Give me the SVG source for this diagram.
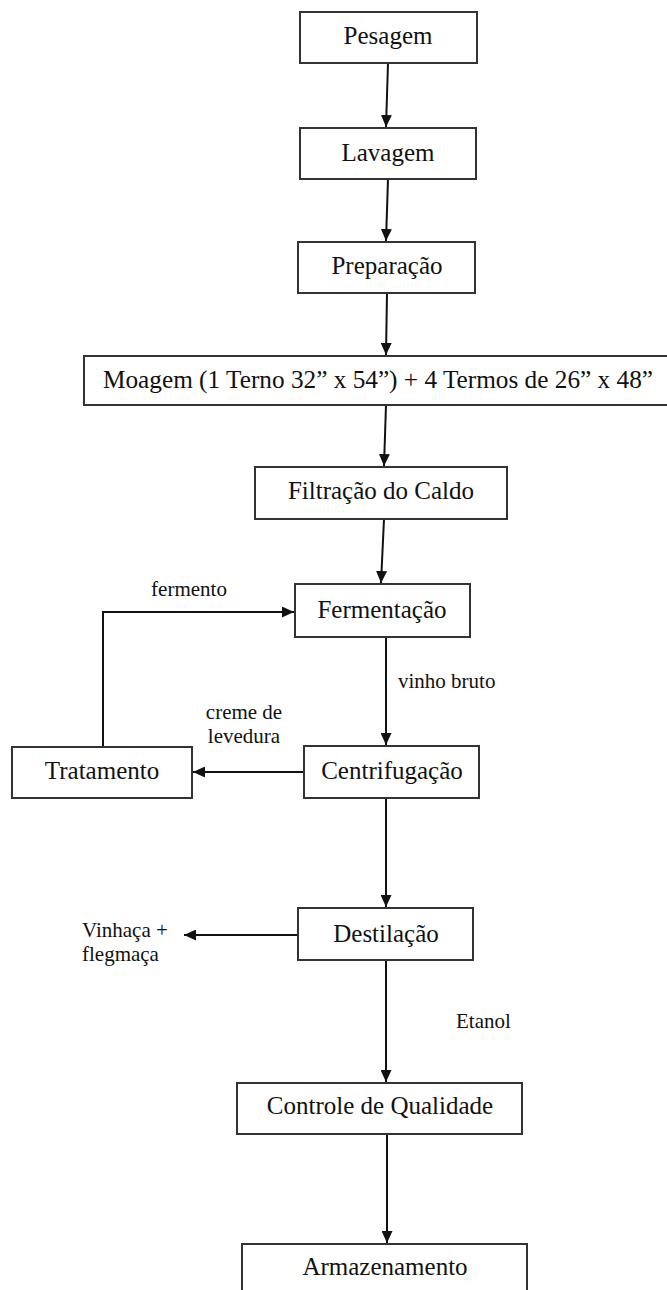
<svg xmlns="http://www.w3.org/2000/svg" width="667" height="1290" viewBox="0 0 667 1290">
<style>
.box{fill:#fff;stroke:#333;stroke-width:2}
.t{font-family:"Liberation Serif","Times New Roman",serif;font-size:25px;fill:#111;text-anchor:middle}
.l{font-family:"Liberation Serif","Times New Roman",serif;font-size:21px;fill:#111}
.c{fill:none;stroke:#111;stroke-width:2}
</style>
<defs>
<marker id="ah" viewBox="0 0 12 11" refX="12" refY="5.5" markerWidth="12" markerHeight="11" markerUnits="userSpaceOnUse" orient="auto">
<path d="M0,0 L12,5.5 L0,11 Z" fill="#111"/>
</marker>
</defs>
<rect width="667" height="1290" fill="#fff"/>
<g id="connectors">
<line class="c" x1="388" y1="63" x2="386" y2="127" marker-end="url(#ah)"/>
<line class="c" x1="388" y1="179" x2="386" y2="241" marker-end="url(#ah)"/>
<line class="c" x1="387" y1="293" x2="386" y2="355" marker-end="url(#ah)"/>
<line class="c" x1="386" y1="405" x2="384" y2="466" marker-end="url(#ah)"/>
<line class="c" x1="384" y1="519" x2="381" y2="583" marker-end="url(#ah)"/>
<line class="c" x1="386" y1="637" x2="386" y2="745" marker-end="url(#ah)"/>
<polyline class="c" points="103,747 103,612 294,612" marker-end="url(#ah)"/>
<line class="c" x1="304" y1="772" x2="193" y2="772" marker-end="url(#ah)"/>
<line class="c" x1="386" y1="798" x2="386" y2="907" marker-end="url(#ah)"/>
<line class="c" x1="298" y1="935" x2="184" y2="935" marker-end="url(#ah)"/>
<line class="c" x1="386" y1="960" x2="386" y2="1082" marker-end="url(#ah)"/>
<line class="c" x1="387" y1="1134" x2="387" y2="1243" marker-end="url(#ah)"/>
</g>
<g id="labels">
<text class="l" x="189" y="596" text-anchor="middle">fermento</text>
<text class="l" x="398" y="688">vinho bruto</text>
<text class="l" x="244" y="719" text-anchor="middle">creme de</text>
<text class="l" x="244" y="743" text-anchor="middle">levedura</text>
<text class="l" x="82" y="937">Vinhaça +</text>
<text class="l" x="82" y="961">flegmaça</text>
<text class="l" x="456" y="1028">Etanol</text>
</g>
<g id="pesagem"><rect class="box" x="300" y="12" width="177" height="51"/><text class="t" x="388" y="44">Pesagem</text></g>
<g id="lavagem"><rect class="box" x="300" y="128" width="176" height="51"/><text class="t" x="388" y="161">Lavagem</text></g>
<g id="preparacao"><rect class="box" x="298" y="242" width="177" height="51"/><text class="t" x="387" y="274">Preparação</text></g>
<g id="moagem"><rect class="box" x="84" y="356" width="600" height="49"/><text class="t" x="103" y="388" style="text-anchor:start" textLength="550" lengthAdjust="spacingAndGlyphs">Moagem (1 Terno 32” x 54”) + 4 Termos de 26” x 48”</text></g>
<g id="filtracao"><rect class="box" x="255" y="467" width="252" height="52"/><text class="t" x="381" y="499">Filtração do Caldo</text></g>
<g id="fermentacao"><rect class="box" x="295" y="584" width="175" height="53"/><text class="t" x="382" y="618">Fermentação</text></g>
<g id="tratamento"><rect class="box" x="12" y="747" width="180" height="51"/><text class="t" x="102" y="779">Tratamento</text></g>
<g id="centrifugacao"><rect class="box" x="304" y="746" width="175" height="52"/><text class="t" x="392" y="779">Centrifugação</text></g>
<g id="destilacao"><rect class="box" x="298" y="908" width="175" height="52"/><text class="t" x="386" y="942">Destilação</text></g>
<g id="controle"><rect class="box" x="237" y="1083" width="285" height="51"/><text class="t" x="380" y="1114">Controle de Qualidade</text></g>
<g id="armazenamento"><rect class="box" x="242" y="1244" width="285" height="60"/><text class="t" x="385" y="1275">Armazenamento</text></g>
</svg>
